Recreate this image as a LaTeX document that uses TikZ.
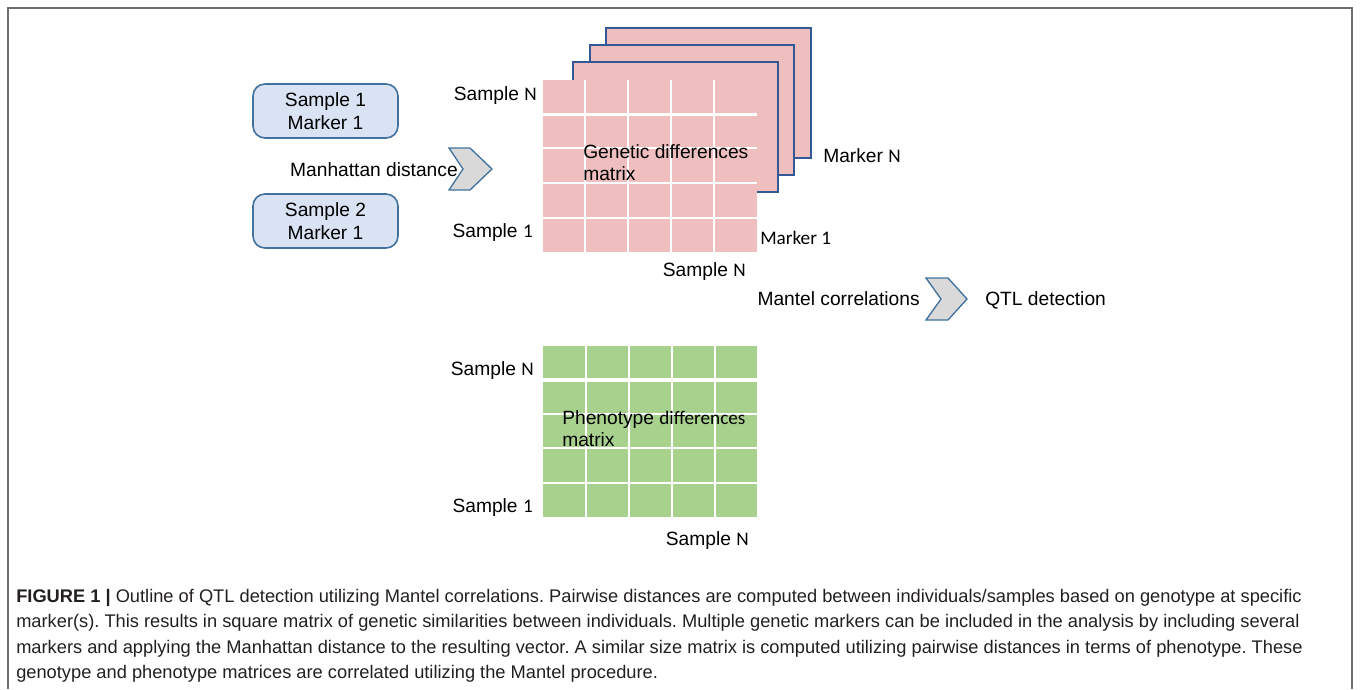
\documentclass[tikz,border=0pt]{standalone}
\usepackage{fontspec}
\setmainfont{Liberation Sans}
\newfontfamily\calfont{Carlito}
\definecolor{pinkc}{RGB}{239,191,191}
\definecolor{greenc}{RGB}{169,209,142}
\definecolor{boxfill}{RGB}{218,227,243}
\definecolor{boxline}{RGB}{65,113,156}
\definecolor{sheetline}{RGB}{52,88,150}
\definecolor{chevfill}{RGB}{217,217,217}
\definecolor{framec}{RGB}{110,110,110}
\definecolor{captext}{RGB}{35,31,32}
\begin{document}
\frenchspacing
\begin{tikzpicture}[x=0.75pt,y=-0.75pt,
  lbl/.style={font=\fontsize{14.4}{17}\selectfont, inner sep=0pt, text=black},
  captionline/.style={font=\fontsize{13.7}{15}\selectfont, inner sep=0pt, anchor=base west, text=captext},
  samplebox/.style={draw=boxline, fill=boxfill, line width=1.2pt, rounded corners=9pt,
    minimum width=108.75pt, minimum height=40.5pt, align=center, inner sep=0pt,
    font=\fontsize{14.4}{17.5}\selectfont},
  chev/.style={draw=boxline, fill=chevfill, line width=1pt, line join=miter},
  sheet/.style={draw=sheetline, fill=pinkc, line width=1.1pt},
  gridline/.style={white, line width=1.2pt},
  gapline/.style={white, line width=2.4pt}
]
\useasboundingbox (0,0) rectangle (1360,689);
% frame
\draw[framec, line width=1.3pt] (8,689) -- (8,8) -- (1352,8) -- (1352,689);

% sample boxes
\node[samplebox] (s1) at (325.5,111) {Sample 1\\Marker 1};
\node[samplebox] (s2) at (325.5,221) {Sample 2\\Marker 1};

% chevron 1
\draw[chev] (449,148) -- (470,148) -- (492,169) -- (470,190) -- (449,190) -- (463,169) -- cycle;
\node[lbl, anchor=mid east] (man) at (458,172.5) {Manhattan distance};

% back sheets
\draw[sheet] (606,28) rectangle (811,158);
\draw[sheet] (590,45) rectangle (794,175);
\draw[sheet] (573,62) rectangle (778,192);

% pink grid
\fill[pinkc] (543,80) rectangle (757,252);
\foreach \x in {585,628,671,714} \draw[gridline] (\x,80) -- (\x,252);
\draw[gapline] (543,114.5) -- (757,114.5);
\foreach \y in {148,183,218} \draw[gridline] (543,\y) -- (757,\y);
\node[lbl, anchor=north west, align=left] (gdm) at (583,144) {Genetic differences\\matrix};

\node[lbl, anchor=mid east] (gsn) at (537,97) {Sample {\calfont N}};
\node[lbl, anchor=mid east] (gs1) at (533,234) {Sample {\calfont 1}};
\node[lbl, anchor=mid east] (gsnb) at (746,273) {Sample {\calfont N}};
\node[lbl, anchor=mid west, font=\calfont\fontsize{14.4}{17}\selectfont] (gm1) at (760,241) {Marker 1};
\node[lbl, anchor=mid west] (gmn) at (823,159) {Marker {\calfont N}};

% Mantel chevron
\draw[chev] (926,278) -- (948,278) -- (967,299) -- (948,320) -- (926,320) -- (941,299) -- cycle;
\node[lbl, anchor=mid east] (mc) at (920,302) {Mantel correlations};
\node[lbl, anchor=mid west] (qtl) at (985,302) {QTL detection};

% green grid
\fill[greenc] (543,346) rectangle (757,517);
\foreach \x in {586,629,672,715} \draw[gridline] (\x,346) -- (\x,517);
\draw[gapline] (543,380) -- (757,380);
\foreach \y in {414,448,483} \draw[gridline] (543,\y) -- (757,\y);
\node[lbl, anchor=north west, align=left] (pdm) at (562,410) {Phenotype {\calfont differences}\\matrix};

\node[lbl, anchor=mid east] (psn) at (534,372) {Sample {\calfont N}};
\node[lbl, anchor=mid east] (ps1) at (533,509) {Sample {\calfont 1}};
\node[lbl, anchor=mid east] (psnb) at (749,542) {Sample {\calfont N}};

% caption
\node[captionline] (c1) at (16,602) {\textbf{FIGURE 1 |} Outline of QTL detection utilizing Mantel correlations. Pairwise distances are computed between individuals/samples based on genotype at specific};
\node[captionline] (c2) at (16,627.5) {marker(s). This results in square matrix of genetic similarities between individuals. Multiple genetic markers can be included in the analysis by including several};
\node[captionline] (c3) at (16,653) {markers and applying the Manhattan distance to the resulting vector. A similar size matrix is computed utilizing pairwise distances in terms of phenotype. These};
\node[captionline] (c4) at (16,678.5) {genotype and phenotype matrices are correlated utilizing the Mantel procedure.};
\end{tikzpicture}
\end{document}
